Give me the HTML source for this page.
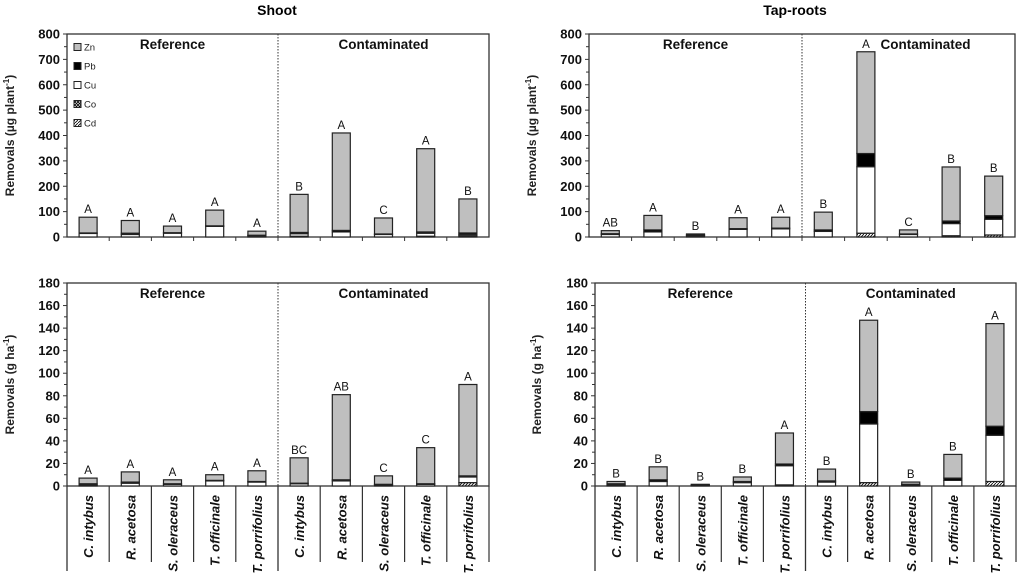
<!DOCTYPE html>
<html><head><meta charset="utf-8"><style>
body{margin:0;background:#fff;width:1024px;height:574px;overflow:hidden}
svg{display:block;font-family:"Liberation Sans",sans-serif}
</style></head><body>
<svg id="c" width="1024" height="574" viewBox="0 0 1024 574" xmlns="http://www.w3.org/2000/svg">
<defs>
<pattern id="hatch" width="3" height="3" patternUnits="userSpaceOnUse"><rect width="3" height="3" fill="#fff"/><path d="M0,3 L3,0" stroke="#000" stroke-width="0.8"/></pattern>
<pattern id="cross" width="3" height="3" patternUnits="userSpaceOnUse"><rect width="3" height="3" fill="#fff"/><path d="M0,0 L3,3 M0,3 L3,0" stroke="#000" stroke-width="0.8"/></pattern>
</defs>
<text x="277" y="15" text-anchor="middle" font-weight="bold" font-size="14">Shoot</text>
<text x="795" y="15" text-anchor="middle" font-weight="bold" font-size="14">Tap-roots</text>
</svg>
<script>
const categories=["C. intybus","R. acetosa","S. oleraceus","T. officinale","T. porrifolius","C. intybus","R. acetosa","S. oleraceus","T. officinale","T. porrifolius"];
// Panel A: shoot, µg plant-1
const aCd=[0,0,0,0,0,0,0,0,0,0];
const aCo=[0,0,0,0,0,3,0,0,3,5];
const aCu=[14,10,15,42,5,10,20,10,12,5];
const aPb=[2,5,2,2,2,5,6,2,5,6];
const aZn=[62,50,26,62,16,150,384,63,328,134];
const aLet=["A","A","A","A","A","B","A","C","A","B"];
// Panel B: tap-roots, µg plant-1
const bCd=[0,0,0,0,0,0,15,0,5,8];
const bCo=[0,0,0,0,0,0,0,0,0,0];
const bCu=[10,20,5,30,32,22,262,10,48,62];
const bPb=[3,8,3,3,3,6,52,2,10,14];
const bZn=[12,57,4,43,43,70,401,16,213,156];
const bLet=["AB","A","B","A","A","B","A","C","B","B"];
// Panel C: shoot, g ha-1
const cCd=[0,0,0,0,0,0,0,0,0,3];
const cCo=[0,0,0,0,0,0,0,0,0,0];
const cCu=[1,2.5,1.5,4.5,3.5,2,4.5,1,1.5,5];
const cPb=[1,1,0.5,0.5,0.5,0.5,1,0.5,0.5,1];
const cZn=[5,9,3.5,5,9.5,22.5,75.5,7.5,32,81];
const cLet=["A","A","A","A","A","BC","AB","C","C","A"];
// Panel D: tap-roots, g ha-1
const dCd=[0,0,0,0,1,0,3,0,0,4];
const dCo=[0,0,0,0,0,0,0,0,0,0];
const dCu=[1,4,0.5,3,17,3.5,52,1,5,41];
const dPb=[1,1.5,0.5,1,1.5,1,11,0.5,2,8];
const dZn=[2,11.5,0.5,4,27.5,10.5,81,2,21,91];
const dLet=["B","B","B","B","A","B","A","B","B","A"];
const topTicks=[0,100,200,300,400,500,600,700,800];
const botTicks=[0,20,40,60,80,100,120,140,160,180];

const svg=document.getElementById('c');
const NS="http://www.w3.org/2000/svg";
function mk(tag,attrs,parent){const e=document.createElementNS(NS,tag);for(const k in attrs)e.setAttribute(k,attrs[k]);(parent||svg).appendChild(e);return e;}

function panel(p){
  const g=mk('g',{});
  
  
  const ymax=p.ticks[p.ticks.length-1];
  const Y=v=>p.y0-(v/ymax)*(p.y0-p.y1);
  const cw=(p.x1-p.x0)/categories.length;
  const X=i=>p.x0+cw*(i+0.5);
  const fr=mk('rect',{x:p.x0,y:p.y1,width:p.x1-p.x0,height:p.y0-p.y1,fill:'none',stroke:'#333','stroke-width':1.3},g);
  
  
  const mid=p.x0+cw*5;
  const dv=mk('line',{x1:mid,y1:p.y1,x2:mid,y2:p.y0,stroke:'#333','stroke-width':1,'stroke-dasharray':'1.5,1.5'},g);
  
  
  const step=p.ticks[1]-p.ticks[0];
  for(let v=0;v<=ymax;v+=step/2){
    const major=(v%step)===0;
    mk('line',{x1:p.x0-(major?4:3),x2:p.x0,y1:Y(v),y2:Y(v),stroke:'#333','stroke-width':1},g);
  }
  p.ticks.forEach(v=>{
    const t=mk('text',{x:p.x0-7,y:Y(v)+4.5,'text-anchor':'end','font-size':13,'font-weight':'bold',fill:'#111'},g);
    t.textContent=v;
    
    
  });
  const yt=mk('text',{transform:`translate(${p.tx},${(p.y0+p.y1)/2}) rotate(-90)`,'text-anchor':'middle','font-size':12,'font-weight':'bold',fill:'#222'},g);
  yt.innerHTML=p.ytitle;
  
  
  [["Reference",p.x0+cw*2.5],["Contaminated",p.x0+cw*(p.contOff||7.5)]].forEach(([s,x])=>{
    const t=mk('text',{x:x,y:p.y1+15,'text-anchor':'middle','font-size':13.5,'font-weight':'bold',fill:'#111'},g);
    t.textContent=s;
    
    
  });
  const bw=18;
  const series=[[p.cd,'url(#hatch)','cd'],[p.co,'url(#cross)','co'],[p.cu,'#fff','cu'],[p.pb,'#000','pb'],[p.zn,'#bfbfbf','zn']];
  categories.forEach((c,i)=>{
    let acc=0;
    series.forEach(([arr,fill,nm])=>{
      const v=arr[i]; if(!v) return;
      const r=mk('rect',{x:X(i)-bw/2,y:Y(acc+v),width:bw,height:Y(acc)-Y(acc+v),fill:fill,stroke:'#222','stroke-width':1.2},g);
      
      
      acc+=v;
    });
    const t=mk('text',{x:X(i),y:Y(acc)-4,'text-anchor':'middle','font-size':11.5,fill:'#111'},g);
    t.textContent=p.let[i];
    
    
  });
  if(p.cats){
    mk('line',{x1:p.x0,y1:p.y0,x2:p.x0,y2:571,stroke:'#333','stroke-width':1.3},g);
    mk('line',{x1:mid,y1:p.y0,x2:mid,y2:571,stroke:'#333','stroke-width':1.3},g);
    for(let i=1;i<=categories.length;i++){
      if(i===5) continue;
      mk('line',{x1:p.x0+cw*i,y1:p.y0,x2:p.x0+cw*i,y2:562,stroke:'#333','stroke-width':1.2},g);
    }
    categories.forEach((c,i)=>{
      const t=mk('text',{transform:`translate(${X(i)+5},${p.y0+9}) rotate(-90)`,'text-anchor':'end','font-size':13,'font-style':'italic','font-weight':'bold',fill:'#111'},g);
      t.textContent=c;
      
      
    });
  } else {
    for(let i=1;i<categories.length;i++) mk('line',{x1:p.x0+cw*i,y1:p.y0,x2:p.x0+cw*i,y2:p.y0+4,stroke:'#333','stroke-width':1},g);
  }
}
panel({name:'shoot-per-plant-panel',x0:67,x1:489,y0:237,y1:34,ticks:topTicks,tx:14,ytitle:'Removals (µg plant<tspan font-size="8" dy="-5">-1</tspan><tspan dy="5">)</tspan>',cd:aCd,co:aCo,cu:aCu,pb:aPb,zn:aZn,let:aLet});
panel({name:'taproots-per-plant-panel',x0:589,x1:1015,y0:237,y1:34,ticks:topTicks,tx:536,ytitle:'Removals (µg plant<tspan font-size="8" dy="-5">-1</tspan><tspan dy="5">)</tspan>',cd:bCd,co:bCo,cu:bCu,pb:bPb,zn:bZn,let:bLet,contOff:7.9});
panel({name:'shoot-per-ha-panel',x0:67,x1:489,y0:486,y1:283,ticks:botTicks,tx:14,ytitle:'Removals (g ha<tspan font-size="8" dy="-5">-1</tspan><tspan dy="5">)</tspan>',cd:cCd,co:cCo,cu:cCu,pb:cPb,zn:cZn,let:cLet,cats:true});
panel({name:'taproots-per-ha-panel',x0:595,x1:1016,y0:486,y1:283,ticks:botTicks,tx:541,ytitle:'Removals (g ha<tspan font-size="8" dy="-5">-1</tspan><tspan dy="5">)</tspan>',cd:dCd,co:dCo,cu:dCu,pb:dPb,zn:dZn,let:dLet,cats:true});
const legend=[["Zn","#bfbfbf"],["Pb","#000"],["Cu","#fff"],["Co","url(#cross)"],["Cd","url(#hatch)"]];
legend.forEach(([n,f],i)=>{
  const y=47+i*19;
  const r=mk('rect',{x:74,y:y-3.5,width:7,height:7,fill:f,stroke:'#222','stroke-width':1});
  
  
  const t=mk('text',{x:84,y:y+3.5,'font-size':9.5,fill:'#222'});
  t.textContent=n;
  
  
});
</script>
</body></html>
